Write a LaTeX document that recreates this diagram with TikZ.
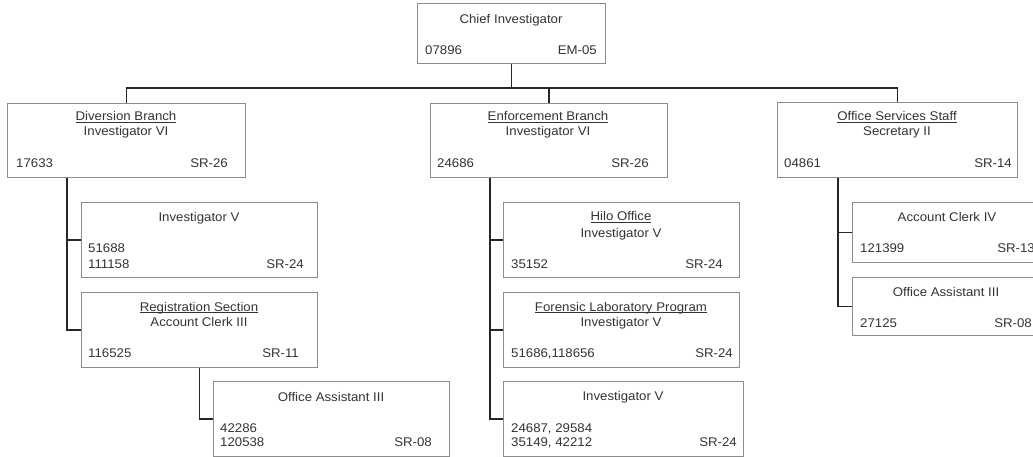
\documentclass[tikz,border=0pt]{standalone}
\usepackage{fontspec}
\setmainfont[FakeStretch=1.05]{Liberation Sans}
\newcommand{\ttl}[1]{\setbox0\hbox{#1}\rlap{\rule[-1.4pt]{\wd0}{0.6pt}}\box0}
\begin{document}
\begin{tikzpicture}[x=1pt,y=-1pt,
  box/.style={draw=black!45,line width=0.9pt,anchor=north west,inner sep=0pt},
  lbl/.style={text=black!80,font=\fontsize{12.6}{15}\selectfont,inner sep=0pt},
  link/.style={line width=1.8pt,black!85}]
\useasboundingbox (0,0) rectangle (1033,457);
\clip (0,0) rectangle (1033,457);
%boxes
\node[box,minimum width=188,minimum height=60] (chief) at (417,3) {};
\node[box,minimum width=238,minimum height=74] (div) at (7,103) {};
\node[box,minimum width=237,minimum height=74] (enf) at (430,103) {};
\node[box,minimum width=240,minimum height=75] (osv) at (777,102) {};
\node[box,minimum width=236,minimum height=75] (dinv) at (81,202) {};
\node[box,minimum width=236,minimum height=75] (dreg) at (81,292) {};
\node[box,minimum width=236,minimum height=75] (doa) at (213,381) {};
\node[box,minimum width=236,minimum height=75] (hilo) at (503,202) {};
\node[box,minimum width=236,minimum height=75] (lab) at (503,292) {};
\node[box,minimum width=240,minimum height=75] (einv) at (503,381) {};
\node[box,minimum width=193,minimum height=60] (oclk) at (852,202) {};
\node[box,minimum width=193,minimum height=58] (oast) at (852,277) {};
%links
\coordinate (bus) at (0,88);
\draw[link] (chief.south) -- (chief.south |- bus);
\draw[link] (div.north) |- (osv.north |- bus) -- (osv.north);
\draw[link] (enf.north |- bus) -- (enf.north);
\draw[link] ([xshift=60pt]div.south west) |- (dinv.west);
\draw[link] ([xshift=60pt]div.south west) |- (dreg.west);
\draw[link] (dreg.south) |- (doa.west);
\draw[link] ([xshift=60pt]enf.south west) |- (hilo.west);
\draw[link] ([xshift=60pt]enf.south west) |- (lab.west);
\draw[link] ([xshift=60pt]enf.south west) |- (einv.west);
\draw[link] ([xshift=61pt]osv.south west) |- (oclk.west);
\draw[link] ([xshift=61pt]osv.south west) |- (oast.west);
%text
\node[lbl,anchor=base] (chiefA) at (511,23.5) {Chief Investigator};
\node[lbl,anchor=base west] (chiefB) at (425,55) {07896};
\node[lbl,anchor=base east] (chiefC) at (597,55) {EM-05};
%
\node[lbl,anchor=base] (divA) at (126,121) {\ttl{Diversion Branch}};
\node[lbl,anchor=base] (divB) at (126,136) {Investigator VI};
\node[lbl,anchor=base west] (divC) at (16,168) {17633};
\node[lbl,anchor=base east] (divD) at (228,168) {SR-26};
%
\node[lbl,anchor=base] (dinvA) at (199,222) {Investigator V};
\node[lbl,anchor=base west] (dinvB) at (88,252) {51688};
\node[lbl,anchor=base west] (dinvC) at (88,268) {111158};
\node[lbl,anchor=base east] (dinvD) at (304,268) {SR-24};
%
\node[lbl,anchor=base] (dregA) at (199,311) {\ttl{Registration Section}};
\node[lbl,anchor=base] (dregB) at (199,326) {Account Clerk III};
\node[lbl,anchor=base west] (dregC) at (88,357) {116525};
\node[lbl,anchor=base east] (dregD) at (299,357) {SR-11};
%
\node[lbl,anchor=base] (doaA) at (331,401) {Office Assistant III};
\node[lbl,anchor=base west] (doaB) at (220,432) {42286};
\node[lbl,anchor=base west] (doaC) at (220,446) {120538};
\node[lbl,anchor=base east] (doaD) at (432,446) {SR-08};
%
\node[lbl,anchor=base] (enfA) at (548,121) {\ttl{Enforcement Branch}};
\node[lbl,anchor=base] (enfB) at (548,136) {Investigator VI};
\node[lbl,anchor=base west] (enfC) at (437,168) {24686};
\node[lbl,anchor=base east] (enfD) at (649,168) {SR-26};
%
\node[lbl,anchor=base] (hiloA) at (621,221) {\ttl{Hilo Office}};
\node[lbl,anchor=base] (hiloB) at (621,237) {Investigator V};
\node[lbl,anchor=base west] (hiloC) at (511,268) {35152};
\node[lbl,anchor=base east] (hiloD) at (723,268) {SR-24};
%
\node[lbl,anchor=base] (labA) at (621,311) {\ttl{Forensic Laboratory Program}};
\node[lbl,anchor=base] (labB) at (621,326) {Investigator V};
\node[lbl,anchor=base west] (labC) at (511,357) {51686,118656};
\node[lbl,anchor=base east] (labD) at (733,357) {SR-24};
%
\node[lbl,anchor=base] (einvA) at (623,400) {Investigator V};
\node[lbl,anchor=base west] (einvB) at (511,432) {24687, 29584};
\node[lbl,anchor=base west] (einvC) at (511,446) {35149, 42212};
\node[lbl,anchor=base east] (einvD) at (737,446) {SR-24};
%
\node[lbl,anchor=base] (osvA) at (897,121) {\ttl{Office Services Staff}};
\node[lbl,anchor=base] (osvB) at (897,136) {Secretary II};
\node[lbl,anchor=base west] (osvC) at (784,168) {04861};
\node[lbl,anchor=base east] (osvD) at (1012,168) {SR-14};
%
\node[lbl,anchor=base] (oclkA) at (947,222) {Account Clerk IV};
\node[lbl,anchor=base west] (oclkB) at (860,252) {121399};
\node[lbl,anchor=base east] (oclkC) at (1035,252) {SR-13};
%
\node[lbl,anchor=base] (oastA) at (946,296) {Office Assistant III};
\node[lbl,anchor=base west] (oastB) at (860,327) {27125};
\node[lbl,anchor=base east] (oastC) at (1032,327) {SR-08};
\end{tikzpicture}
\end{document}
